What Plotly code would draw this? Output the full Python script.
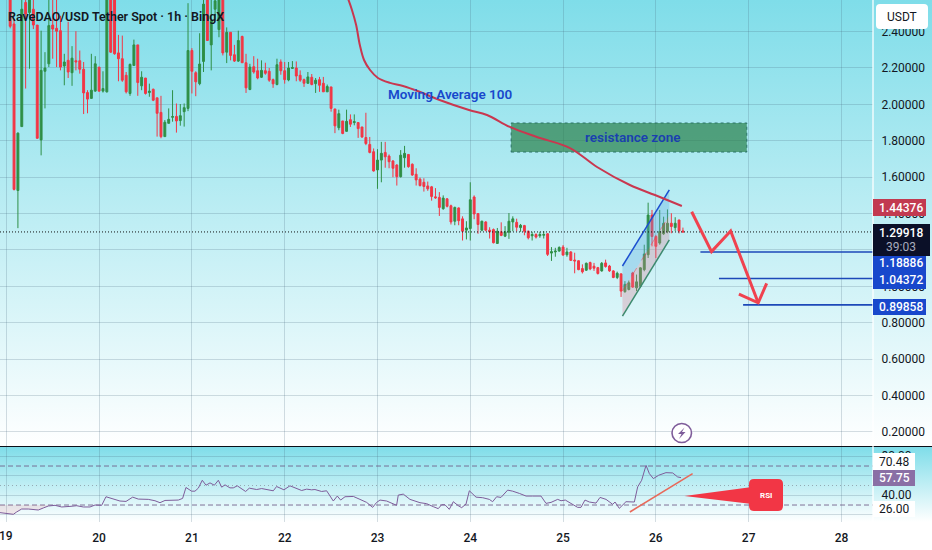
"""RaveDAO/USD 1h chart with RSI pane and drawn trade idea, TradingView look."""

import plotly.graph_objects as go

W, H = 932, 550
FONT = "Roboto"
INK = "#131722"
GREEN = "#2f8f46"
RED = "#f23645"
BLUE = "#1848cc"
PURPLE = "#7e5c9a"
GRID = "rgba(70,100,125,0.22)"

# hourly candles, first one at 19 + 1/24
OPEN = [
    2.62, 2.442, 1.527, 1.878, 2.56, 2.505, 2.523, 2.436, 1.805, 2.182,
    2.223, 2.436, 2.418, 2.405, 2.211, 2.242, 2.174, 2.24, 2.24, 2.193,
    2.065, 2.033, 2.073, 2.205, 2.073, 2.069, 2.62, 2.62, 2.283, 2.251,
    2.16, 2.06, 2.214, 2.327, 2.102, 2.145, 2.065, 2.083, 2.036, 1.956,
    1.823, 1.896, 1.929, 1.934, 1.911, 1.96, 1.978, 2.296, 2.174, 2.114,
    2.236, 2.6, 2.327, 2.523, 2.411, 2.62, 2.287, 2.396, 2.273, 2.238,
    2.373, 2.229, 2.082, 2.207, 2.185, 2.149, 2.185, 2.182, 2.136, 2.109,
    2.233, 2.185, 2.134, 2.198, 2.2, 2.16, 2.136, 2.116, 2.149, 2.114,
    2.136, 2.116, 2.069, 2.096, 1.975, 1.872, 1.909, 1.852, 1.916, 1.9,
    1.9, 1.876, 1.818, 1.78, 1.74, 1.64, 1.694, 1.736, 1.716, 1.689,
    1.667, 1.603, 1.707, 1.725, 1.671, 1.616, 1.589, 1.572, 1.552, 1.547,
    1.492, 1.489, 1.427, 1.481, 1.443, 1.358, 1.431, 1.371, 1.309, 1.318,
    1.491, 1.4, 1.309, 1.354, 1.309, 1.312, 1.236, 1.3, 1.276, 1.298,
    1.354, 1.352, 1.323, 1.334, 1.303, 1.278, 1.285, 1.278, 1.281, 1.289,
    1.183, 1.189, 1.194, 1.216, 1.174, 1.189, 1.145, 1.141, 1.098, 1.089,
    1.131, 1.111, 1.103, 1.085, 1.129, 1.112, 1.085, 1.049, 1.069, 0.971,
    0.983, 1.074, 0.992, 1.001, 1.092, 1.174, 1.392, 1.274, 1.238, 1.289,
    1.302, 1.347, 1.323, 1.365, 1.305,
]
HIGH = [
    2.66, 2.469, 1.846, 2.6, 2.62, 2.64, 2.6, 2.436, 2.405, 2.287,
    2.59, 2.6, 2.6, 2.487, 2.278, 2.454, 2.32, 2.402, 2.296, 2.233,
    2.078, 2.278, 2.265, 2.205, 2.182, 2.68, 2.66, 2.64, 2.382, 2.378,
    2.178, 2.224, 2.356, 2.327, 2.182, 2.145, 2.114, 2.087, 2.036, 2.047,
    1.914, 1.978, 2.078, 2.005, 2.002, 2.005, 2.556, 2.309, 2.182, 2.391,
    2.6, 2.64, 2.6, 2.6, 2.66, 2.66, 2.423, 2.396, 2.327, 2.405,
    2.378, 2.278, 2.223, 2.265, 2.251, 2.242, 2.229, 2.2, 2.142, 2.251,
    2.247, 2.233, 2.233, 2.238, 2.236, 2.187, 2.142, 2.178, 2.167, 2.145,
    2.151, 2.151, 2.109, 2.096, 1.975, 1.971, 1.909, 1.971, 1.945, 1.945,
    1.903, 1.876, 1.954, 1.821, 1.758, 1.754, 1.794, 1.794, 1.725, 1.694,
    1.671, 1.749, 1.772, 1.725, 1.676, 1.649, 1.598, 1.594, 1.576, 1.552,
    1.54, 1.518, 1.5, 1.485, 1.449, 1.438, 1.434, 1.385, 1.358, 1.572,
    1.5, 1.401, 1.361, 1.358, 1.325, 1.318, 1.321, 1.352, 1.331, 1.403,
    1.385, 1.372, 1.343, 1.338, 1.307, 1.3, 1.292, 1.3, 1.303, 1.292,
    1.216, 1.212, 1.22, 1.227, 1.212, 1.194, 1.185, 1.143, 1.121, 1.131,
    1.136, 1.129, 1.107, 1.134, 1.147, 1.118, 1.089, 1.081, 1.069, 1.029,
    1.032, 1.08, 1.065, 1.105, 1.229, 1.46, 1.42, 1.283, 1.42, 1.383,
    1.423, 1.402, 1.38, 1.365, 1.323,
]
LOW = [
    2.418, 1.527, 1.32, 1.878, 2.087, 2.196, 2.414, 1.811, 1.72, 1.978,
    2.205, 2.251, 2.205, 2.187, 2.105, 2.145, 2.102, 2.187, 2.169, 1.947,
    1.951, 2.033, 2.069, 2.069, 2.065, 2.065, 2.283, 2.273, 2.127, 2.124,
    2.06, 2.047, 2.214, 2.047, 2.078, 2.054, 2.042, 2.018, 1.823, 1.814,
    1.823, 1.896, 1.905, 1.845, 1.883, 1.878, 1.963, 2.06, 2.045, 2.105,
    2.178, 2.351, 2.187, 2.46, 2.369, 2.269, 2.227, 2.242, 2.233, 2.233,
    2.229, 2.063, 2.078, 2.169, 2.138, 2.145, 2.163, 2.124, 2.091, 2.105,
    2.163, 2.114, 2.127, 2.196, 2.127, 2.124, 2.096, 2.113, 2.105, 2.063,
    2.069, 2.069, 2.069, 1.96, 1.842, 1.858, 1.836, 1.849, 1.876, 1.885,
    1.816, 1.816, 1.776, 1.731, 1.631, 1.536, 1.572, 1.652, 1.649, 1.6,
    1.554, 1.598, 1.652, 1.652, 1.607, 1.554, 1.549, 1.521, 1.525, 1.471,
    1.481, 1.387, 1.421, 1.434, 1.34, 1.336, 1.336, 1.252, 1.258, 1.252,
    1.369, 1.289, 1.303, 1.303, 1.263, 1.236, 1.234, 1.276, 1.271, 1.261,
    1.303, 1.303, 1.3, 1.281, 1.258, 1.252, 1.263, 1.267, 1.263, 1.167,
    1.14, 1.163, 1.191, 1.169, 1.163, 1.14, 1.072, 1.089, 1.071, 1.085,
    1.089, 1.085, 1.065, 1.081, 1.103, 1.08, 1.045, 1.04, 0.942, 0.965,
    0.978, 0.992, 0.974, 0.992, 1.083, 1.156, 1.22, 1.156, 1.229, 1.283,
    1.292, 1.292, 1.305, 1.291, 1.296,
]
CLOSE = [
    2.429, 1.533, 1.842, 2.523, 2.496, 2.6, 2.436, 1.814, 2.187, 2.2,
    2.433, 2.414, 2.402, 2.205, 2.233, 2.178, 2.254, 2.233, 2.193, 2.063,
    2.029, 2.078, 2.223, 2.073, 2.087, 2.62, 2.287, 2.278, 2.251, 2.133,
    2.069, 2.22, 2.327, 2.12, 2.149, 2.06, 2.073, 2.023, 1.951, 1.823,
    1.902, 1.918, 1.933, 1.909, 1.938, 1.982, 2.296, 2.182, 2.124, 2.222,
    2.551, 2.351, 2.46, 2.569, 2.6, 2.283, 2.396, 2.269, 2.238, 2.351,
    2.229, 2.091, 2.205, 2.178, 2.145, 2.187, 2.171, 2.133, 2.113, 2.218,
    2.185, 2.136, 2.2, 2.202, 2.156, 2.133, 2.116, 2.151, 2.109, 2.133,
    2.105, 2.069, 2.098, 1.978, 1.882, 1.949, 1.84, 1.907, 1.891, 1.905,
    1.867, 1.821, 1.785, 1.736, 1.634, 1.694, 1.731, 1.712, 1.685, 1.649,
    1.603, 1.721, 1.731, 1.658, 1.612, 1.585, 1.554, 1.549, 1.536, 1.494,
    1.487, 1.434, 1.485, 1.44, 1.354, 1.434, 1.361, 1.303, 1.321, 1.476,
    1.398, 1.34, 1.358, 1.309, 1.3, 1.24, 1.303, 1.28, 1.3, 1.358,
    1.371, 1.325, 1.336, 1.303, 1.267, 1.285, 1.271, 1.285, 1.285, 1.176,
    1.191, 1.194, 1.214, 1.172, 1.189, 1.143, 1.14, 1.092, 1.08, 1.127,
    1.096, 1.1, 1.071, 1.127, 1.109, 1.085, 1.049, 1.072, 0.974, 1.011,
    1.02, 0.996, 1.025, 1.102, 1.178, 1.392, 1.274, 1.22, 1.302, 1.347,
    1.347, 1.329, 1.347, 1.305, 1.299,
]
HOURS = [19 + (i + 1) / 24 for i in range(len(OPEN))]

MA_DAY = [22.68, 22.725, 22.77, 22.81, 22.855, 22.92, 23.005, 23.135, 23.275, 23.46,
          23.67, 23.986, 24.18, 24.426, 24.717, 25.075, 25.366, 25.72, 25.99, 26.28]
MA_PRICE = [2.585, 2.519, 2.436, 2.326, 2.244, 2.189, 2.145, 2.118, 2.101, 2.068,
            2.024, 1.969, 1.942, 1.876, 1.821, 1.76, 1.656, 1.557, 1.502, 1.442]

RSI_DAY = [
    18.932, 19.004, 19.076, 19.112, 19.165, 19.237, 19.309, 19.345, 19.399, 19.453,
    19.525, 19.597, 19.686, 19.758, 19.83, 19.902, 19.956, 20.028, 20.074, 20.153,
    20.225, 20.29, 20.362, 20.423, 20.53, 20.602, 20.656, 20.71, 20.8, 20.854,
    20.9, 20.936, 20.997, 21.033, 21.069, 21.112, 21.152, 21.195, 21.242, 21.285,
    21.321, 21.357, 21.41, 21.446, 21.489, 21.525, 21.579, 21.619, 21.698, 21.752,
    21.842, 21.877, 21.913, 21.992, 22.057, 22.111, 22.183, 22.237, 22.29, 22.326,
    22.398, 22.452, 22.524, 22.567, 22.603, 22.65, 22.74, 22.811, 22.883, 22.948,
    22.991, 23.027, 23.099, 23.206, 23.224, 23.278, 23.35, 23.458, 23.53, 23.602,
    23.655, 23.691, 23.727, 23.774, 23.817, 23.871, 23.907, 23.954, 23.99, 24.062,
    24.134, 24.205, 24.241, 24.284, 24.331, 24.403, 24.457, 24.529, 24.601, 24.672,
    24.762, 24.816, 24.87, 24.942, 24.978, 25.024, 25.085, 25.157, 25.193, 25.236,
    25.283, 25.355, 25.398, 25.463, 25.535, 25.56, 25.606, 25.678, 25.768, 25.804,
    25.847, 25.894, 25.93, 25.973, 26.03, 26.109, 26.181, 26.235, 26.271,
]
RSI_VALUE = [
    22.2, 21.5, 20.5, 22.9, 25.9, 25.9, 25.6, 24.9, 27.0, 29.0,
    29.7, 28.0, 28.6, 29.3, 28.0, 28.0, 30.0, 29.7, 38.5, 35.8,
    34.1, 33.7, 38.1, 36.1, 35.8, 34.4, 32.4, 34.7, 35.1, 35.1,
    36.8, 48.0, 44.2, 44.2, 47.3, 55.4, 50.3, 52.7, 50.3, 55.4,
    48.3, 50.7, 47.6, 47.6, 49.7, 47.6, 43.9, 47.3, 45.9, 46.9,
    45.6, 44.6, 49.0, 45.6, 49.7, 47.3, 44.9, 46.3, 45.6, 45.9,
    43.9, 44.6, 34.1, 39.2, 35.1, 38.5, 38.8, 35.8, 32.7, 27.6,
    32.7, 35.1, 34.1, 29.7, 40.2, 41.2, 35.8, 32.4, 31.4, 28.3,
    26.3, 30.3, 30.3, 25.6, 33.4, 29.3, 27.3, 31.0, 44.6, 38.1,
    37.5, 35.8, 33.4, 38.5, 37.8, 45.3, 44.2, 41.9, 39.2, 39.2,
    39.2, 31.7, 32.7, 35.8, 34.4, 35.1, 31.7, 27.6, 27.6, 35.1,
    33.1, 32.0, 37.8, 35.8, 30.7, 33.1, 26.6, 33.4, 33.1, 48.6,
    55.4, 70.7, 62.2, 57.1, 60.5, 63.2, 62.9, 58.8, 58.1,
]

DAY_TICKS = [19, 20, 21, 22, 23, 24, 25, 26, 27, 28]
PRICE_TICKS = [0.2, 0.4, 0.6, 0.8, 1.0, 1.2, 1.4, 1.6, 1.8, 2.0, 2.2, 2.4]
RSI_TICKS = [20, 40, 60, 80]

LAST_PRICE = 1.29918
MA_LAST = 1.44376
TARGETS = [1.18886, 1.04372, 0.89858]
TARGET_START = [26.48, 26.68, 26.94]

CHANNEL_DAY = [25.64, 26.145]
CHANNEL_TOP = [1.112, 1.53]
CHANNEL_MID = [0.975, 1.39]
CHANNEL_BOTTOM = [0.837, 1.255]
ZONE_DAY = [24.44, 26.98]
ZONE_PRICE = [1.738, 1.898]
PATH_DAY = [26.386, 26.60, 26.806, 27.103]
PATH_PRICE = [1.41, 1.191, 1.304, 0.91]
HEAD_DAY = [26.895, 27.103, 27.194]
HEAD_PRICE = [0.958, 0.91, 1.017]
RSI_TREND_DAY = [25.72, 26.396]
RSI_TREND_VALUE = [22.9, 62.2]

X_RANGE = [18.932, 28.34]
PLOT_W = 873 / W


def px(x):
    return x / W


def py(y):
    return 1 - y / H


def rounded(x0, y0, x1, y1, r):
    return (
        f"M{px(x0 + r)},{py(y0)} L{px(x1 - r)},{py(y0)} Q{px(x1)},{py(y0)} {px(x1)},{py(y0 + r)} "
        f"L{px(x1)},{py(y1 - r)} Q{px(x1)},{py(y1)} {px(x1 - r)},{py(y1)} "
        f"L{px(x0 + r)},{py(y1)} Q{px(x0)},{py(y1)} {px(x0)},{py(y1 - r)} "
        f"L{px(x0)},{py(y0 + r)} Q{px(x0)},{py(y0)} {px(x0 + r)},{py(y0)} Z"
    )


fig = go.Figure()

# background gradients sit on a full-page pixel subplot so they run under the price scale
for top, bottom in [(0, 446), (447, 522)]:
    fig.add_trace(go.Scatter(
        x=[0, W, W, 0], y=[top, top, bottom, bottom], fill="toself", mode="none",
        fillgradient=dict(type="vertical", colorscale=[[0, "#ffffff"], [1, "#7fdde9"]]),
        hoverinfo="skip", xaxis="x", yaxis="y",
    ))

main = dict(xaxis="x2", yaxis="y2", hoverinfo="skip")
fig.add_trace(go.Candlestick(
    x=HOURS, open=OPEN, high=HIGH, low=LOW, close=CLOSE, whiskerwidth=0,
    increasing=dict(line=dict(color=GREEN, width=1), fillcolor=GREEN),
    decreasing=dict(line=dict(color=RED, width=1), fillcolor=RED),
    xaxis="x2", yaxis="y2",
))

# resistance zone
fig.add_trace(go.Scatter(
    x=[ZONE_DAY[0], ZONE_DAY[1], ZONE_DAY[1], ZONE_DAY[0], ZONE_DAY[0]],
    y=[ZONE_PRICE[0], ZONE_PRICE[0], ZONE_PRICE[1], ZONE_PRICE[1], ZONE_PRICE[0]],
    mode="lines", fill="toself", fillcolor="rgba(38,125,70,0.68)",
    line=dict(color="rgba(30,100,90,0.8)", width=1, dash="dot"), **main,
))

# rising channel
fig.add_trace(go.Scatter(
    x=CHANNEL_DAY + CHANNEL_DAY[::-1], y=CHANNEL_TOP + CHANNEL_MID[::-1],
    mode="none", fill="toself", fillcolor="rgba(90,170,225,0.32)", **main,
))
fig.add_trace(go.Scatter(
    x=CHANNEL_DAY + CHANNEL_DAY[::-1], y=CHANNEL_MID + CHANNEL_BOTTOM[::-1],
    mode="none", fill="toself", fillcolor="rgba(215,130,150,0.32)", **main,
))
fig.add_trace(go.Scatter(x=CHANNEL_DAY, y=CHANNEL_MID, mode="lines",
                         line=dict(color="rgba(242,54,69,0.5)", width=1, dash="dash"), **main))
fig.add_trace(go.Scatter(x=CHANNEL_DAY, y=CHANNEL_TOP, mode="lines",
                         line=dict(color="#1b4fd0", width=1.5), **main))
fig.add_trace(go.Scatter(x=CHANNEL_DAY, y=CHANNEL_BOTTOM, mode="lines",
                         line=dict(color="#3c8a6e", width=1.5), **main))

fig.add_trace(go.Scatter(x=MA_DAY, y=MA_PRICE, mode="lines",
                         line=dict(color="#c9374f", width=2, shape="spline"), **main))

fig.add_trace(go.Scatter(x=[X_RANGE[0], X_RANGE[1]], y=[LAST_PRICE, LAST_PRICE], mode="lines",
                         line=dict(color="#111111", width=1, dash="1px,2px"), **main))

for start, level in zip(TARGET_START, TARGETS):
    fig.add_trace(go.Scatter(x=[start, X_RANGE[1]], y=[level, level], mode="lines",
                             line=dict(color="#1d49b8", width=1.6), **main))

fig.add_trace(go.Scatter(x=PATH_DAY, y=PATH_PRICE, mode="lines",
                         line=dict(color="#f0424f", width=3), **main))
fig.add_trace(go.Scatter(x=HEAD_DAY, y=HEAD_PRICE, mode="lines",
                         line=dict(color="#f0424f", width=3), **main))

# RSI pane
pane = dict(xaxis="x3", yaxis="y3", hoverinfo="skip")
for level, dash, color in [(70, "5px,3px", "rgba(110,90,135,0.85)"),
                           (50, "1px,3px", "rgba(120,125,135,0.6)"),
                           (30, "5px,3px", "rgba(110,90,135,0.85)")]:
    fig.add_trace(go.Scatter(x=X_RANGE, y=[level, level], mode="lines",
                             line=dict(color=color, width=1, dash=dash), **pane))
fig.add_trace(go.Scatter(
    x=RSI_DAY[:10] + RSI_DAY[:10][::-1], y=RSI_VALUE[:10] + [30] * 10,
    mode="none", fill="toself", fillcolor="rgba(242,54,69,0.1)", **pane,
))
fig.add_trace(go.Scatter(x=RSI_DAY, y=RSI_VALUE, mode="lines",
                         line=dict(color=PURPLE, width=1), **pane))
fig.add_trace(go.Scatter(x=RSI_TREND_DAY, y=RSI_TREND_VALUE, mode="lines",
                         line=dict(color="#e8695a", width=1.6), **pane))

shapes = [
    # pane separator and price-scale edge
    dict(type="line", xref="paper", yref="paper", x0=0, x1=1, y0=py(446.5), y1=py(446.5),
         line=dict(color="#0c0f18", width=1)),
    dict(type="line", xref="paper", yref="paper", x0=px(873), x1=px(873), y0=py(0), y1=py(522),
         line=dict(color="rgba(255,255,255,0.85)", width=1.5)),
    # USDT button
    dict(type="path", xref="paper", yref="paper", path=rounded(876, 4, 928, 29, 4),
         fillcolor="white", line=dict(width=0)),
    # RSI callout
    dict(type="path", xref="paper", yref="paper", path=rounded(749, 479, 783, 511, 5),
         fillcolor=RED, line=dict(width=0)),
    dict(type="path", xref="paper", yref="paper",
         path=f"M{px(684.5)},{py(496)} L{px(752)},{py(487)} L{px(752)},{py(504)} Z",
         fillcolor=RED, line=dict(width=0)),
    # flash icon
    dict(type="circle", xref="paper", yref="paper", x0=px(672), x1=px(691.5), y0=py(442.5), y1=py(423.5),
         fillcolor="white", line=dict(color=PURPLE, width=1.6)),
    dict(type="path", xref="paper", yref="paper",
         path=f"M{px(684.5)},{py(427.5)} L{px(678)},{py(434)} L{px(681.5)},{py(434)} "
              f"L{px(679)},{py(439)} L{px(685.5)},{py(432)} L{px(682)},{py(432)} Z",
         fillcolor=PURPLE, line=dict(width=0)),
]

annotations = []


def note(x, y, text, color=INK, size=12, weight=400, anchor="left", **extra):
    annotations.append(dict(
        xref="paper", yref="paper", x=px(x), y=py(y), text=text, showarrow=False,
        xanchor=anchor, yanchor="middle", font=dict(family=FONT, size=size, color=color, weight=weight),
        borderpad=0, borderwidth=0, **extra,
    ))


def tag(y0, y1, color, x1=926):
    shapes.append(dict(type="rect", xref="paper", yref="paper", x0=px(873), x1=px(x1),
                       y0=py(y0), y1=py(y1), fillcolor=color, line=dict(width=0)))


tag(199, 216, "#c23a50")
tag(224, 256, "#0b1028", x1=930)
tag(256, 289, BLUE)
tag(299, 315, BLUE)
tag(453, 470, "white", x1=915)
tag(470, 486, "#8a6fa5", x1=915)
tag(501, 517, "white", x1=915)

note(8, 16.5, "RaveDAO/USD Tether Spot · 1h · BingX", size=12.5, weight=600)
note(450, 94, "Moving Average 100", color="#1848cc", size=13.5, weight=600, anchor="center")
note(633, 137, "resistance zone", color="#1a3fb0", size=13.5, weight=600, anchor="center")
note(902, 17, "USDT", size=12, anchor="center")
note(901, 208, f"{MA_LAST:.5f}", color="white", size=12, weight=500, anchor="center")
note(901, 233, f"{LAST_PRICE:.5f}", color="white", size=12, weight=500, anchor="center")
note(901, 247, "39:03", color="#a8abbc", size=12, anchor="center")
note(901, 263, f"{TARGETS[0]:.5f}", color="white", size=12, weight=500, anchor="center")
note(901, 280, f"{TARGETS[1]:.5f}", color="white", size=12, weight=500, anchor="center")
note(901, 307, f"{TARGETS[2]:.5f}", color="white", size=12, weight=500, anchor="center")
note(894, 462, "70.48", size=12, anchor="center")
note(894, 478, "57.75", color="white", size=12, weight=500, anchor="center")
note(894, 509, "26.00", size=12, anchor="center")
note(765.5, 495, "RSI", color="white", size=8, weight=700, anchor="center")
# plotly drops the first day label because it would run past the left edge
note(6.3, 536, "19", size=12, weight=500, anchor="center")

fig.update_layout(shapes=shapes, annotations=annotations)

# price ticks wholly behind a tag keep their gridline but no label
price_text = ["" if v == 1.2 else f"{v:.5f}" for v in PRICE_TICKS]
rsi_text = ["" if v in (20, 60) else f"{v:.2f}" for v in RSI_TICKS]

fig.update_layout(
    width=W, height=H, margin=dict(l=0, r=0, t=0, b=0), showlegend=False,
    paper_bgcolor="white", plot_bgcolor="rgba(0,0,0,0)", hovermode=False,
    font=dict(family=FONT, size=12, color=INK),
    xaxis=dict(domain=[0, 1], range=[0, W], visible=False, fixedrange=True),
    yaxis=dict(domain=[0, 1], range=[H, 0], visible=False, fixedrange=True),
    xaxis2=dict(domain=[0, PLOT_W], range=X_RANGE, anchor="y2", tickvals=DAY_TICKS, showticklabels=False,
                showgrid=True, gridcolor=GRID, zeroline=False, ticks="", rangeslider=dict(visible=False)),
    yaxis2=dict(domain=[py(446), 1], range=[0.123, 2.5736], anchor="x2", side="right",
                tickvals=PRICE_TICKS, ticktext=price_text,
                showgrid=True, gridcolor=GRID, zeroline=False, ticks="outside", ticklen=5,
                tickcolor="rgba(0,0,0,0)", showline=False),
    xaxis3=dict(domain=[0, PLOT_W], range=X_RANGE, anchor="y3", tickvals=DAY_TICKS,
                ticktext=["" if d == 19 else str(d) for d in DAY_TICKS], showgrid=True, gridcolor=GRID,
                zeroline=False, ticks="outside", ticklen=5, tickcolor="rgba(0,0,0,0)", showline=False,
                tickfont=dict(family=FONT, size=12, color=INK, weight=500)),
    yaxis3=dict(domain=[py(522), py(447)], range=[12.6, 89.5], anchor="x3", side="right",
                tickvals=RSI_TICKS, ticktext=rsi_text,
                showgrid=True, gridcolor=GRID, zeroline=False, ticks="outside", ticklen=5,
                tickcolor="rgba(0,0,0,0)", showline=False),
)

# the default page keeps an 8px body margin, which would shift the whole chart
fig.write_html("out.html", config={"displayModeBar": False},
               post_script="document.body.style.margin='0';document.body.style.overflow='hidden';")
